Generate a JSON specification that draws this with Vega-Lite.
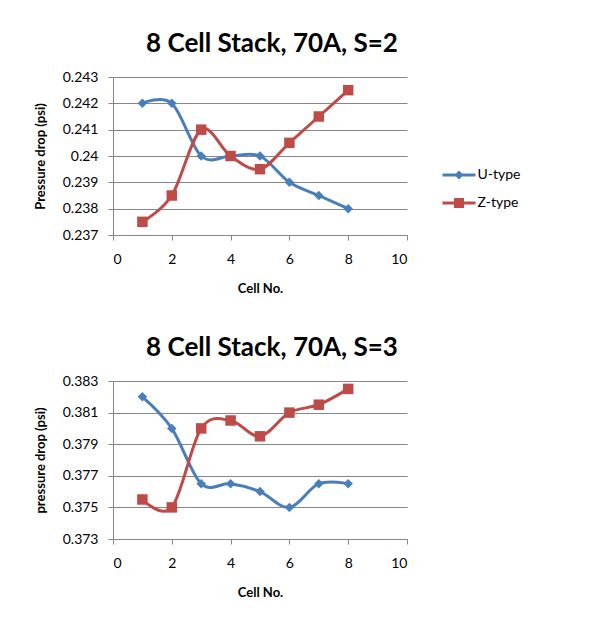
{
  "$schema": "https://vega.github.io/schema/vega-lite/v6.json",
  "background": "white",
  "padding": {"left": 34, "top": 31, "right": 5, "bottom": 5},
  "spacing": 40,
  "datasets": {
    "s2": [
      {"cell": 1, "series": "U-type", "drop": 0.242},
      {"cell": 2, "series": "U-type", "drop": 0.242},
      {"cell": 3, "series": "U-type", "drop": 0.240},
      {"cell": 4, "series": "U-type", "drop": 0.240},
      {"cell": 5, "series": "U-type", "drop": 0.240},
      {"cell": 6, "series": "U-type", "drop": 0.239},
      {"cell": 7, "series": "U-type", "drop": 0.2385},
      {"cell": 8, "series": "U-type", "drop": 0.238},
      {"cell": 1, "series": "Z-type", "drop": 0.2375},
      {"cell": 2, "series": "Z-type", "drop": 0.2385},
      {"cell": 3, "series": "Z-type", "drop": 0.241},
      {"cell": 4, "series": "Z-type", "drop": 0.240},
      {"cell": 5, "series": "Z-type", "drop": 0.2395},
      {"cell": 6, "series": "Z-type", "drop": 0.2405},
      {"cell": 7, "series": "Z-type", "drop": 0.2415},
      {"cell": 8, "series": "Z-type", "drop": 0.2425}
    ],
    "s3": [
      {"cell": 1, "series": "U-type", "drop": 0.382},
      {"cell": 2, "series": "U-type", "drop": 0.380},
      {"cell": 3, "series": "U-type", "drop": 0.3765},
      {"cell": 4, "series": "U-type", "drop": 0.3765},
      {"cell": 5, "series": "U-type", "drop": 0.376},
      {"cell": 6, "series": "U-type", "drop": 0.375},
      {"cell": 7, "series": "U-type", "drop": 0.3765},
      {"cell": 8, "series": "U-type", "drop": 0.3765},
      {"cell": 1, "series": "Z-type", "drop": 0.3755},
      {"cell": 2, "series": "Z-type", "drop": 0.375},
      {"cell": 3, "series": "Z-type", "drop": 0.380},
      {"cell": 4, "series": "Z-type", "drop": 0.3805},
      {"cell": 5, "series": "Z-type", "drop": 0.3795},
      {"cell": 6, "series": "Z-type", "drop": 0.381},
      {"cell": 7, "series": "Z-type", "drop": 0.3815},
      {"cell": 8, "series": "Z-type", "drop": 0.3825}
    ]
  },
  "config": {
    "view": {"stroke": null},
    "font": "Lato",
    "title": {"font": "Lato", "fontSize": 26, "fontWeight": "bold", "color": "#000000", "anchor": "middle", "dx": 12, "offset": 13},
    "axis": {
      "labelFont": "Lato", "labelFontSize": 14, "labelColor": "#000000",
      "titleFont": "Lato", "titleFontSize": 13, "titleFontWeight": "bold", "titleColor": "#000000",
      "domainColor": "#868686", "tickColor": "#868686", "gridColor": "#868686", "tickSize": 5
    },
    "axisX": {"grid": false, "labelPadding": 12, "titlePadding": 16},
    "axisY": {"grid": true, "labelPadding": 10, "titlePadding": 15}
  },
  "vconcat": [
    {
      "title": "8 Cell Stack, 70A, S=2",
      "width": 294,
      "height": 158,
      "data": {"name": "s2"},
      "encoding": {
        "x": {"field": "cell", "type": "quantitative", "scale": {"domain": [0, 10], "nice": false}, "axis": {"values": [0, 2, 4, 6, 8, 10], "title": "Cell No."}},
        "y": {"field": "drop", "type": "quantitative", "scale": {"domain": [0.237, 0.243], "nice": false, "zero": false}, "axis": {"values": [0.237, 0.238, 0.239, 0.24, 0.241, 0.242, 0.243], "format": ".3~f", "title": "Pressure drop (psi)"}},
        "color": {
          "field": "series", "type": "nominal",
          "scale": {"domain": ["U-type", "Z-type"], "range": ["#4A7EBB", "#BE4B48"]},
          "legend": {
            "orient": "none", "legendX": 336, "legendY": 88, "title": null,
            "symbolSize": 400, "symbolStrokeWidth": 0, "labelOffset": 8.5, "rowPadding": 11,
            "labelFont": "Lato", "labelFontSize": 14, "labelColor": "#000000", "padding": 0,
            "encode": {"symbols": {"update": {
              "shape": {"signal": "datum.value === 'U-type' ? 'M-1.65,-0.15H1.65V0.15H-1.65Z M0,-0.45L0.45,0L0,0.45L-0.45,0Z' : 'M-1.65,-0.15H1.65V0.15H-1.65Z M-0.5,-0.5H0.5V0.5H-0.5Z'"},
              "fill": {"signal": "datum.value === 'U-type' ? '#4A7EBB' : '#BE4B48'"},
              "opacity": {"value": 1},
              "fillOpacity": {"value": 1}
            }}}
          }
        }
      },
      "layer": [
        {"mark": {"type": "line", "interpolate": "cardinal", "strokeWidth": 3}},
        {"transform": [{"filter": "datum.series === 'U-type'"}], "mark": {"type": "point", "shape": "diamond", "filled": true, "opacity": 1, "size": 90}},
        {"transform": [{"filter": "datum.series === 'Z-type'"}], "mark": {"type": "point", "shape": "square", "filled": true, "opacity": 1, "size": 110}}
      ]
    },
    {
      "title": "8 Cell Stack, 70A, S=3",
      "width": 294,
      "height": 158,
      "data": {"name": "s3"},
      "encoding": {
        "x": {"field": "cell", "type": "quantitative", "scale": {"domain": [0, 10], "nice": false}, "axis": {"values": [0, 2, 4, 6, 8, 10], "title": "Cell No."}},
        "y": {"field": "drop", "type": "quantitative", "scale": {"domain": [0.373, 0.383], "nice": false, "zero": false}, "axis": {"values": [0.373, 0.375, 0.377, 0.379, 0.381, 0.383], "format": ".3~f", "title": "pressure drop (psi)"}},
        "color": {
          "field": "series", "type": "nominal",
          "scale": {"domain": ["U-type", "Z-type"], "range": ["#4A7EBB", "#BE4B48"]},
          "legend": {
            "orient": "none", "legendX": 336, "legendY": 88, "title": null,
            "symbolSize": 400, "symbolStrokeWidth": 0, "labelOffset": 8.5, "rowPadding": 11,
            "labelFont": "Lato", "labelFontSize": 14, "labelColor": "#000000", "padding": 0,
            "encode": {"symbols": {"update": {
              "shape": {"signal": "datum.value === 'U-type' ? 'M-1.65,-0.15H1.65V0.15H-1.65Z M0,-0.45L0.45,0L0,0.45L-0.45,0Z' : 'M-1.65,-0.15H1.65V0.15H-1.65Z M-0.5,-0.5H0.5V0.5H-0.5Z'"},
              "fill": {"signal": "datum.value === 'U-type' ? '#4A7EBB' : '#BE4B48'"},
              "opacity": {"value": 1},
              "fillOpacity": {"value": 1}
            }}}
          }
        }
      },
      "layer": [
        {"mark": {"type": "line", "interpolate": "cardinal", "strokeWidth": 3}},
        {"transform": [{"filter": "datum.series === 'U-type'"}], "mark": {"type": "point", "shape": "diamond", "filled": true, "opacity": 1, "size": 90}},
        {"transform": [{"filter": "datum.series === 'Z-type'"}], "mark": {"type": "point", "shape": "square", "filled": true, "opacity": 1, "size": 110}}
      ]
    }
  ]
}
